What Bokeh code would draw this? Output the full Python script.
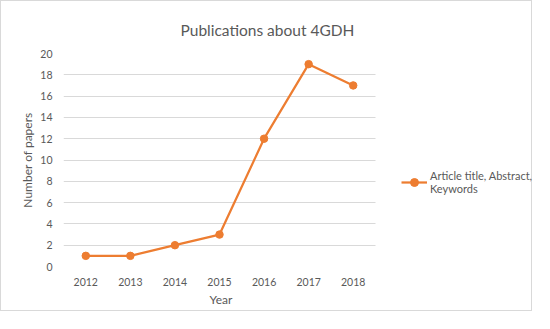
from bokeh.plotting import figure
from bokeh.models import Legend, LegendItem, ColumnDataSource, Range1d, FixedTicker, Title
from bokeh.embed import file_html
from bokeh.resources import INLINE

years = [2012, 2013, 2014, 2015, 2016, 2017, 2018]
papers = [1, 1, 2, 3, 12, 19, 17]
y_ticks = [0, 2, 4, 6, 8, 10, 12, 14, 16, 18, 20]
series_name = "Article title, Abstract,\nKeywords"

FONT = "Lato"
GREY = "#595959"
ORANGE = "#ED7D31"

# layout: plot area 312px wide for the 7 years, frame extended right for the legend
W, H = 532, 311
LEFT, RIGHT, TOP, BOTTOM = 62, 1, 52, 46
frame_w = W - LEFT - RIGHT
x0, x1 = years[0] - 0.5, years[-1] + 0.5
x_end = x0 + (x1 - x0) * frame_w / 312.0

src = ColumnDataSource(dict(x=years, y=papers))

p = figure(width=W, height=H, output_backend="svg", toolbar_location=None,
           x_range=Range1d(x0, x_end), y_range=Range1d(0, 20),
           min_border_left=LEFT, min_border_right=RIGHT, min_border_top=TOP,
           min_border_bottom=BOTTOM, styles={"border": "1px solid #d9d9d9"})

p.title.text = "Publications about 4GDH"
p.title.text_font = FONT
p.title.text_font_size = "15.5px"
p.title.text_font_style = "normal"
p.title.text_color = GREY
p.title.align = "left"
p.title.offset = 117
p.title.standoff = 29

p.outline_line_color = None
p.xgrid.grid_line_color = None
p.ygrid.grid_line_color = "#d9d9d9"
p.ygrid.cross_bounds = (x0, x1)
p.yaxis.ticker = FixedTicker(ticks=y_ticks)
p.xaxis.ticker = FixedTicker(ticks=years)

for ax in (p.xaxis, p.yaxis):
    ax.axis_line_color = None
    ax.major_tick_line_color = None
    ax.minor_tick_line_color = None
    ax.major_label_text_font = FONT
    ax.major_label_text_font_size = "10.5px"
    ax.major_label_text_color = GREY
    ax.axis_label_text_font = FONT
    ax.axis_label_text_font_size = "12px"
    ax.axis_label_text_color = GREY
    ax.axis_label_text_font_style = "normal"

p.yaxis.axis_label = "Number of papers"
p.yaxis.axis_label_standoff = 2
p.xaxis.major_label_standoff = 5
p.yaxis.major_label_standoff = 5

xlabel = Title(text="Year", align="left", offset=146, text_font=FONT,
               text_font_size="12px", text_font_style="normal", text_color=GREY,
               standoff=2)
p.add_layout(xlabel, "below")

ln = p.line("x", "y", source=src, line_color=ORANGE, line_width=2.25)
sc = p.scatter("x", "y", source=src, size=7.5, fill_color=ORANGE, line_color=ORANGE)

legend = Legend(items=[LegendItem(label=series_name, renderers=[ln, sc])],
                location=(338, 71), border_line_color=None,
                background_fill_alpha=0,
                label_text_font=FONT, label_text_font_size="11px",
                label_text_color=GREY, glyph_width=26, padding=0, margin=0,
                label_standoff=3)
p.add_layout(legend, "center")

open("out.html", "w").write(file_html(p, INLINE))
